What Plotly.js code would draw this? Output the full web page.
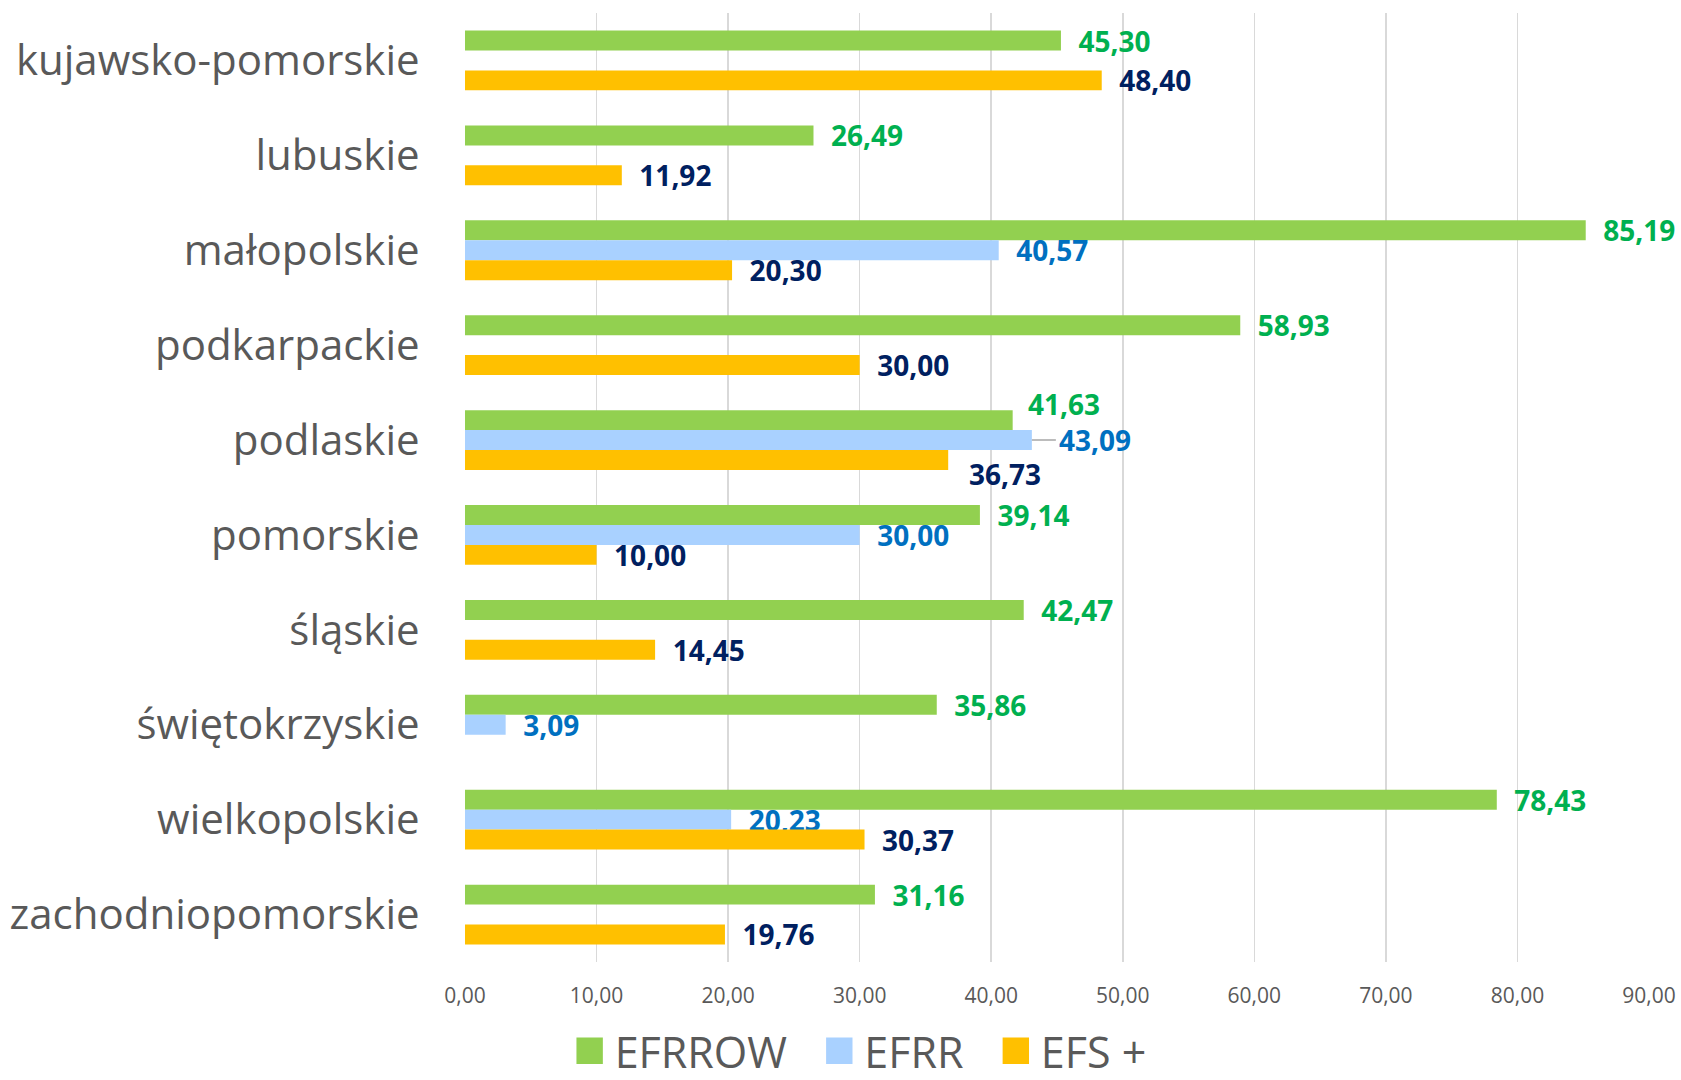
<!DOCTYPE html>
<html>
<head>
<meta charset="utf-8">
<script src="https://cdn.plot.ly/plotly-3.0.1.min.js"></script>
<style>html,body{margin:0;padding:0;background:#fff;}#chart{width:1681px;height:1080px;}</style>
</head>
<body>
<div id="chart"></div>
<script>
const categories = ["kujawsko-pomorskie","lubuskie","małopolskie","podkarpackie","podlaskie","pomorskie","śląskie","świętokrzyskie","wielkopolskie","zachodniopomorskie"];
const efrrow = [45.30, 26.49, 85.19, 58.93, 41.63, 39.14, 42.47, 35.86, 78.43, 31.16];
const efrr   = [null, null, 40.57, null, 43.09, 30.00, null, 3.09, 20.23, null];
const efs    = [48.40, 11.92, 20.30, 30.00, 36.73, 10.00, 14.45, null, 30.37, 19.76];
const seriesNames = ["EFRROW", "EFRR", "EFS +"];
const tickVals = [0,10,20,30,40,50,60,70,80,90];
// category whose labels were moved by hand in the original chart
const movedCategory = "podlaskie";

const FONT = "Open Sans, Noto Sans, sans-serif";
const colors = ["#92D050", "#A9D1FF", "#FFC000"];
const labelColors = ["#00B050", "#0070C0", "#002060"];
const fmt = v => v.toFixed(2).replace(".", ",");
const LABEL_SIZE = 28;

function bar(i, vals) {
  return {
    type: "bar", orientation: "h",
    name: seriesNames[i] + (i < seriesNames.length - 1 ? "\u00A0\u00A0" : ""),
    x: vals, y: categories,
    marker: {color: colors[i]},
    text: vals.map((v, k) => (v === null || categories[k] === movedCategory) ? "" : "\u00A0\u00A0" + fmt(v)),
    textposition: "outside",
    constraintext: "none",
    cliponaxis: false,
    textfont: {family: FONT, size: LABEL_SIZE, color: labelColors[i], weight: "bold"},
    hoverinfo: "x+y"
  };
}
const series = [efrrow, efrr, efs];
const data = series.map((s, i) => bar(i, s));

const mi = categories.indexOf(movedCategory);
const annFont = i => ({family: FONT, size: LABEL_SIZE, color: labelColors[i], weight: "bold"});
const annotations = [
  {x: efrrow[mi], y: movedCategory, text: fmt(efrrow[mi]), showarrow: false,
   xanchor: "left", yanchor: "middle", xshift: 13, yshift: 36, font: annFont(0)},
  {x: efrr[mi], y: movedCategory, text: fmt(efrr[mi]), showarrow: true,
   arrowhead: 0, arrowwidth: 1.5, arrowcolor: "#A6A6A6", ax: 24, ay: 0,
   xanchor: "left", yanchor: "middle", font: annFont(1), borderpad: 2},
  {x: efs[mi], y: movedCategory, text: fmt(efs[mi]), showarrow: false,
   xanchor: "left", yanchor: "middle", xshift: 19, yshift: -34, font: annFont(2)}
];

const layout = {
  width: 1681, height: 1080,
  separators: ", ",
  paper_bgcolor: "#fff", plot_bgcolor: "#fff",
  margin: {l: 465, r: 32, t: 13, b: 118},
  barmode: "group", bargap: 0.37, bargroupgap: 0,
  font: {family: FONT, color: "#595959"},
  annotations: annotations,
  xaxis: {
    range: [0, 90], tickvals: tickVals, tickformat: ".2f",
    showgrid: true, gridcolor: "#D9D9D9", gridwidth: 1.5,
    zeroline: false, showline: false,
    ticks: "outside", ticklen: 15, tickcolor: "rgba(0,0,0,0)",
    tickfont: {family: FONT, size: 21, color: "#595959"},
    fixedrange: true
  },
  yaxis: {
    autorange: "reversed", type: "category",
    showgrid: false, zeroline: false, showline: false,
    ticks: "outside", ticklen: 36, tickcolor: "rgba(0,0,0,0)",
    tickfont: {family: FONT, size: 42, color: "#595959"}
  },
  showlegend: true,
  legend: {
    orientation: "h", xref: "container", yref: "container",
    x: 0.5105, xanchor: "center", y: 0.027, yanchor: "middle",
    itemwidth: 40,
    font: {family: FONT, size: 43, color: "#595959"},
    traceorder: "normal", itemclick: false
  }
};
Plotly.newPlot("chart", data, layout, {displayModeBar: false, staticPlot: true}).then(function(){
  document.querySelectorAll(".legend .legendpoints path").forEach(function(p){
    p.setAttribute("transform", "translate(25,0) scale(2.2)");
  });
});
</script>
</body>
</html>
